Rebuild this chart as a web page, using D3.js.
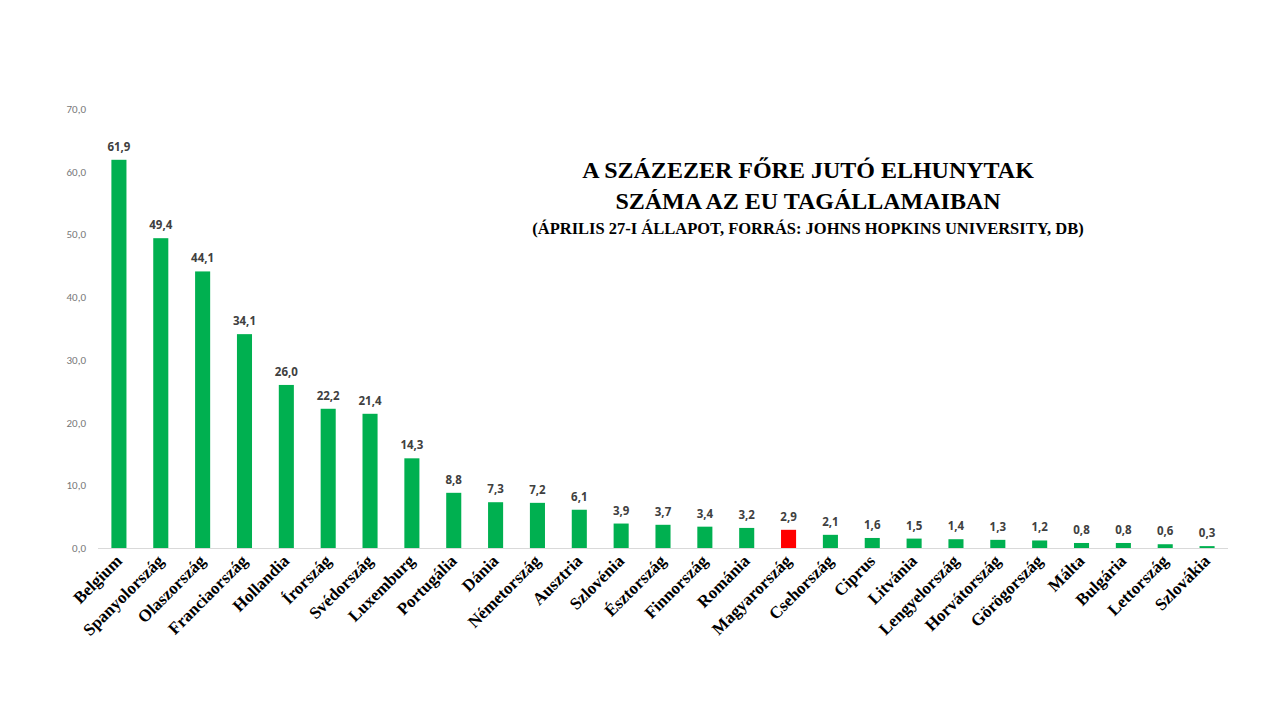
<!DOCTYPE html><html><head><meta charset="utf-8"><script src="https://cdn.jsdelivr.net/npm/d3@7"></script>
<style>body{margin:0;background:#fff}</style></head><body><svg width="1280" height="720"></svg>
<script>
const countries=["Belgium","Spanyolország","Olaszország","Franciaország","Hollandia","Írország","Svédország","Luxemburg","Portugália","Dánia","Németország","Ausztria","Szlovénia","Észtország","Finnország","Románia","Magyarország","Csehország","Ciprus","Litvánia","Lengyelország","Horvátország","Görögország","Málta","Bulgária","Lettország","Szlovákia"];
const values=[61.9,49.4,44.1,34.1,26.0,22.2,21.4,14.3,8.8,7.3,7.2,6.1,3.9,3.7,3.4,3.2,2.9,2.1,1.6,1.5,1.4,1.3,1.2,0.8,0.8,0.6,0.3];
const ticks=[0,10,20,30,40,50,60,70];
const fmt=v=>v.toFixed(1).replace(".",",");
const svg=d3.select("svg");
const x=d3.scaleBand().domain(countries).range([98,1228]).paddingInner(0.64).paddingOuter(0.32);
const y=d3.scaleLinear().domain([0,70]).range([548,109]);
svg.selectAll("text.t").data(ticks).join("text").attr("x",86).attr("y",d=>y(d)+4).attr("text-anchor","end")
 .attr("font-family","Calibri,Carlito,'Liberation Sans',sans-serif").attr("font-size",11).attr("fill","#777").text(fmt);
svg.append("line").attr("x1",98).attr("x2",1228).attr("y1",548.5).attr("y2",548.5).attr("stroke","#d9d9d9");
svg.selectAll("rect").data(countries).join("rect").attr("x",d=>x(d)).attr("width",x.bandwidth())
 .attr("y",(d,i)=>y(values[i])).attr("height",(d,i)=>548-y(values[i])).attr("fill",d=>d==="Magyarország"?"#ff0000":"#00b050");
svg.selectAll("text.v").data(countries).join("text").attr("x",d=>x(d)+x.bandwidth()/2).attr("y",(d,i)=>y(values[i])-9)
 .attr("text-anchor","middle").attr("font-family","'Open Sans',sans-serif").attr("font-weight","bold").attr("font-size",11.5).attr("fill","#404040").text((d,i)=>fmt(values[i]));
svg.selectAll("text.c").data(countries).join("text").attr("transform",d=>`translate(${x(d)+x.bandwidth()/2+4},${562}) rotate(-45)`)
 .attr("text-anchor","end").attr("font-family","'Liberation Serif','Times New Roman',serif").attr("font-weight","bold").attr("font-size",17).attr("fill","#000").text(d=>d);
const tt=svg.append("g").attr("font-family","'Liberation Serif','Times New Roman',serif").attr("font-weight","bold").attr("text-anchor","middle");
tt.append("text").attr("x",808).attr("y",178).attr("font-size",24).text("A SZÁZEZER FŐRE JUTÓ ELHUNYTAK");
tt.append("text").attr("x",808).attr("y",209).attr("font-size",24).text("SZÁMA AZ EU TAGÁLLAMAIBAN");
tt.append("text").attr("x",808).attr("y",234).attr("font-size",16.5).text("(ÁPRILIS 27-I ÁLLAPOT, FORRÁS: JOHNS HOPKINS UNIVERSITY, DB)");
</script></body></html>
